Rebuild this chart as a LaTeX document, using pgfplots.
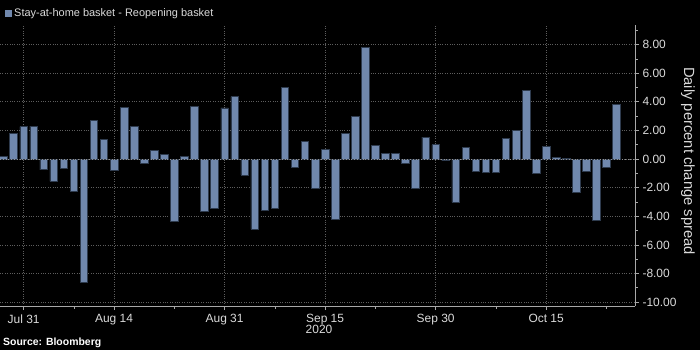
\documentclass[border=0pt]{standalone}
\usepackage{pgfplots}
\pgfplotsset{compat=1.18}
\usepackage{pgfplotstable}
\usepackage{fontspec}
\setmainfont{Liberation Sans}
\definecolor{barblue}{HTML}{7088AD}
\definecolor{baredge}{HTML}{2E3B4E}
\definecolor{gridgray}{HTML}{5E5E5E}
\definecolor{axisgray}{HTML}{A8A8A8}
\definecolor{txt}{HTML}{DADADA}

\pgfplotstableread{
i v
0 0.21
1 1.82
2 2.26
3 2.31
4 -0.75
5 -1.56
6 -0.65
7 -2.26
8 -8.62
9 2.68
10 1.40
11 -0.79
12 3.59
13 2.26
14 -0.33
15 0.63
16 0.35
17 -4.36
18 0.21
19 3.66
20 -3.68
21 -3.47
22 3.57
23 4.36
24 -1.10
25 -4.92
26 -3.61
27 -3.47
28 4.99
29 -0.61
30 1.21
31 -2.05
32 0.65
33 -4.22
34 1.82
35 2.96
36 7.83
37 0.93
38 0.37
39 0.42
40 -0.30
41 -2.05
42 1.54
43 1.00
44 -0.12
45 -3.03
46 0.84
47 -0.89
48 -0.96
49 -0.96
50 1.42
51 2.03
52 4.78
53 -1.03
54 0.91
55 0.09
56 0.07
57 -2.33
58 -0.86
59 -4.31
60 -0.58
61 3.80
}\spread

\begin{document}
\begin{tikzpicture}[x=1bp,y=1bp]
\fill[black] (0,0) rectangle (700,350);
\useasboundingbox (0,0) rectangle (700,350);
\begin{axis}[
  at={(0bp,44bp)}, anchor=south west,
  width=635bp, height=281bp, scale only axis,
  xmin=-0.35, xmax=62.84, ymin=-10.27, ymax=9.37,
  axis x line*=bottom, axis y line*=right,
  axis line style={axisgray, line width=0.8pt},
  xtick={2,11,22,32,43,54},
  xticklabels={Jul 31,Aug 14,Aug 31,Sep 15,Sep 30,Oct 15},
  minor xtick={7,17,27,37,49,60},
  ytick={-10,-8,-6,-4,-2,0,2,4,6,8},
  yticklabels={-10.00,-8.00,-6.00,-4.00,-2.00,0.00,2.00,4.00,6.00,8.00},
  minor ytick={-9,-7,-5,-3,-1,1,3,5,7,9},
  tick align=outside,
  major tick length=4bp, minor tick length=2.5bp,
  tick style={axisgray, line width=0.7pt},
  xmajorgrids, ymajorgrids,
  grid style={gridgray, dotted, line width=0.7pt},
  ticklabel style={text=txt, font=\fontsize{12}{14}\selectfont},
  xticklabel style={yshift=-1bp},
  clip=false,
]
\addplot[ybar, bar width=0.75, fill=barblue, draw=baredge, line width=0.6pt] table[x=i, y=v] {\spread};
\draw[gray!85, dotted, line width=0.8pt] (axis cs:-0.35,0) -- (axis cs:62.84,0);
\end{axis}
\fill[barblue] (5,333) rectangle (12,340);
\node[anchor=west, inner sep=0pt, text=txt, font=\fontsize{11}{13}\selectfont] at (14,336.5) {Stay-at-home basket - Reopening basket};
\node[text=txt, font=\fontsize{12}{14}\selectfont, inner sep=0pt] at (319,20.5) {2020};
\node[anchor=west, inner sep=0pt, text=white, font=\bfseries\fontsize{10.5}{12}\selectfont] at (3,7) {Source: Bloomberg};
\node[rotate=-90, text=txt, font=\fontsize{14.8}{17}\selectfont, inner sep=0pt] at (688,189) {Daily percent change spread};
\end{tikzpicture}
\end{document}
